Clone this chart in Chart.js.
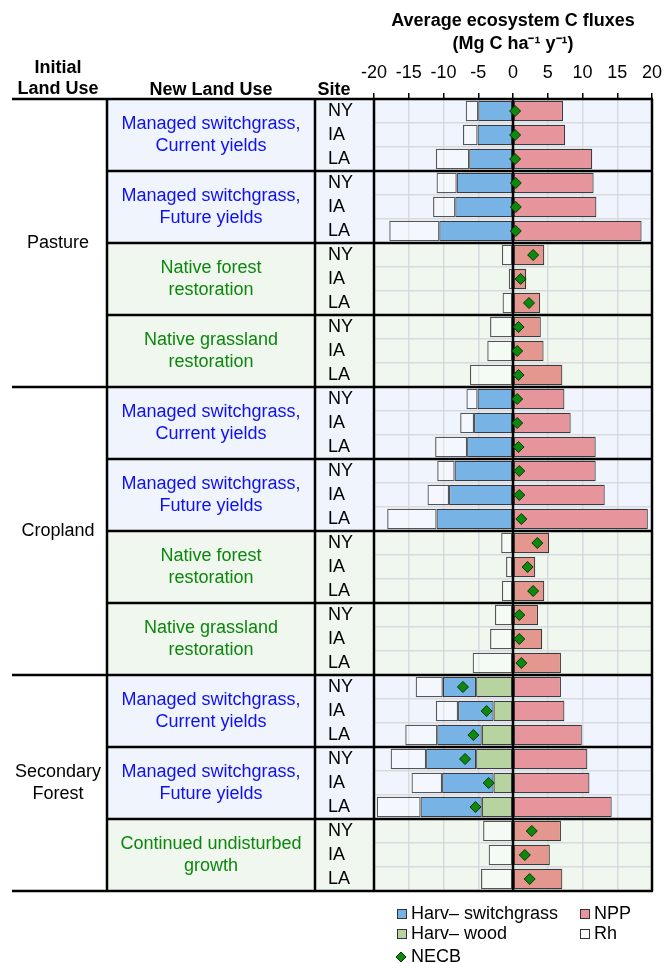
<!DOCTYPE html>
<html>
<head>
<meta charset="utf-8">
<script src="https://cdn.jsdelivr.net/npm/chart.js@4.4.1/dist/chart.umd.min.js"></script>
<style>
  body { margin: 0; background: #fff; }
  #wrap { position: relative; width: 665px; height: 963px; }
</style>
</head>
<body>
<div id="wrap"><canvas id="myChart"></canvas></div>
<script>
// rows: 11 land-use transitions x 3 sites
var sites = ["NY", "IA", "LA"];
var initialLandUse = ["Pasture", "Cropland", "Secondary Forest"];
var newLandUse = [
    ["Managed switchgrass,", "Current yields"],
    ["Managed switchgrass,", "Future yields"],
    ["Native forest", "restoration"],
    ["Native grassland", "restoration"],
    ["Managed switchgrass,", "Current yields"],
    ["Managed switchgrass,", "Future yields"],
    ["Native forest", "restoration"],
    ["Native grassland", "restoration"],
    ["Managed switchgrass,", "Current yields"],
    ["Managed switchgrass,", "Future yields"],
    ["Continued undisturbed", "growth"]
];
var groupIsSwitchgrass = [true, true, false, false, true, true, false, false, true, true, false];
var xTicks = [-20, -15, -10, -5, 0, 5, 10, 15, 20];

// Mg C ha-1 y-1 (losses negative)
var npp = [7.2, 7.5, 11.4,  11.6, 12.0, 18.5,  4.5, 1.9, 3.9,  4.0, 4.4, 7.1,
           7.4, 8.3, 11.9,  11.9, 13.2, 19.4,  5.2, 3.2, 4.5,  3.6, 4.2, 6.9,
           6.9, 7.4, 9.9,   10.7, 11.0, 14.2,  6.9, 5.3, 7.1];
var harvWood = [0, 0, 0,  0, 0, 0,  0, 0, 0,  0, 0, 0,
                0, 0, 0,  0, 0, 0,  0, 0, 0,  0, 0, 0,
                -5.3, -2.8, -4.5,  -5.3, -2.8, -4.5,  0, 0, 0];
var harvSwitchgrass = [-5.0, -5.1, -6.3,  -8.1, -8.3, -10.6,  0, 0, 0,  0, 0, 0,
                       -5.1, -5.6, -6.6,  -8.4, -9.2, -11.0,  0, 0, 0,  0, 0, 0,
                       -4.8, -5.1, -6.4,  -7.2, -7.4, -8.8,  0, 0, 0];
var rh = [-1.8, -2.1, -4.8,  -2.9, -3.2, -7.2,  -1.6, -0.6, -1.5,  -3.3, -3.7, -6.2,
          -1.6, -2.0, -4.6,  -2.5, -3.1, -7.1,  -1.7, -1.0, -1.6,  -2.6, -3.3, -5.8,
          -3.9, -3.2, -4.6,  -5.1, -4.4, -6.3,  -4.3, -3.5, -4.6];
var necb = [0.3, 0.3, 0.3,  0.4, 0.4, 0.4,  2.9, 1.1, 2.3,  0.8, 0.6, 0.8,
            0.6, 0.6, 0.8,  0.9, 0.9, 1.2,  3.5, 2.1, 2.9,  0.9, 0.9, 1.2,
            -7.2, -3.8, -5.7,  -6.9, -3.5, -5.4,  2.7, 1.7, 2.4];

var labels = [];
newLandUse.forEach(() => sites.forEach(s => labels.push(s)));

var FONT = "'Liberation Sans', Arial, sans-serif";
Chart.defaults.font.family = FONT;
Chart.defaults.font.size = 18;
Chart.defaults.color = "#000";

var BLUE = "#78b3e6", GREEN = "#b6d3a0", BORDER = "#3a3a3a";
var nppColor = ctx => groupIsSwitchgrass[Math.floor(ctx.dataIndex / 3)] ? "#e6959c" : "#e3978f";

const tablePlugin = {
    id: "table",
    beforeDraw(chart) {
        const { ctx, chartArea: a } = chart;
        const gh = (a.bottom - a.top) / newLandUse.length;
        ctx.save();
        ctx.fillStyle = "#fff";
        ctx.fillRect(0, 0, chart.width, chart.height);
        groupIsSwitchgrass.forEach((sw, g) => {
            ctx.fillStyle = sw ? "#eff4fd" : "#eff7ef";
            ctx.fillRect(107, a.top + g * gh, a.right - 107, gh);
        });
        ctx.restore();
    },
    beforeDatasetDraw(chart, args) {
        if (args.index !== 0) return;
        const { ctx, chartArea: a } = chart;
        const x0 = chart.scales.x.getPixelForValue(0);
        ctx.save();
        ctx.strokeStyle = "#000";
        ctx.lineWidth = 2.5;
        ctx.beginPath();
        ctx.moveTo(x0, a.top);
        ctx.lineTo(x0, a.bottom);
        ctx.stroke();
        ctx.restore();
    },
    afterDraw(chart) {
        const { ctx, chartArea: a } = chart;
        const gh = (a.bottom - a.top) / newLandUse.length;
        ctx.save();
        ctx.strokeStyle = "#000";
        ctx.lineWidth = 2.5;
        ctx.beginPath();
        for (let g = 0; g <= newLandUse.length; g++) {
            const y = a.top + g * gh;
            const full = g % 4 === 0 || g === newLandUse.length;
            ctx.moveTo(full ? 12 : 107, y);
            ctx.lineTo(a.right + 1, y);
        }
        [107, 315, a.left, a.right].forEach(x => {
            ctx.moveTo(x, a.top);
            ctx.lineTo(x, a.bottom);
        });
        ctx.stroke();

        ctx.textAlign = "center";
        ctx.textBaseline = "middle";
        ctx.fillStyle = "#000";
        ctx.font = "bold 18px " + FONT;
        ctx.fillText("Initial", 58, 68);
        ctx.fillText("Land Use", 58, 89);
        ctx.fillText("New Land Use", 211, 90);
        ctx.fillText("Site", 334, 90);

        ctx.font = "18px " + FONT;
        ctx.fillText(initialLandUse[0], 58, a.top + 2 * gh);
        ctx.fillText(initialLandUse[1], 58, a.top + 6 * gh);
        ctx.fillText("Secondary", 58, a.top + 9.5 * gh - 11);
        ctx.fillText("Forest", 58, a.top + 9.5 * gh + 11);

        newLandUse.forEach((lines, g) => {
            const cy = a.top + (g + 0.5) * gh;
            ctx.fillStyle = groupIsSwitchgrass[g] ? "#1010ee" : "#0c870c";
            ctx.fillText(lines[0], 211, cy - 11);
            ctx.fillText(lines[1], 211, cy + 11);
        });

        // legend
        const sq = (x, y, c) => {
            ctx.fillStyle = c;
            ctx.fillRect(x, y - 5, 10, 10);
            ctx.lineWidth = 1;
            ctx.strokeStyle = "#333";
            ctx.strokeRect(x + 0.5, y - 4.5, 9, 9);
        };
        ctx.textAlign = "left";
        ctx.fillStyle = "#000";
        sq(397, 914, BLUE);
        sq(580, 914, "#e6959c");
        sq(397, 934, GREEN);
        sq(580, 934, "#fff");
        ctx.fillStyle = "#000";
        ctx.fillText("Harv\u2013 switchgrass", 411, 914);
        ctx.fillText("NPP", 594, 914);
        ctx.fillText("Harv\u2013 wood", 411, 934);
        ctx.fillText("Rh", 594, 934);
        ctx.fillText("NECB", 411, 957);
        ctx.beginPath();
        ctx.moveTo(401, 952); ctx.lineTo(406, 957); ctx.lineTo(401, 962); ctx.lineTo(396, 957);
        ctx.closePath();
        ctx.fillStyle = "#0b8a0b";
        ctx.fill();
        ctx.strokeStyle = "#0a300a";
        ctx.stroke();
        ctx.restore();
    }
};

const data = {
    labels: labels,
    datasets: [
        {
            type: "line",
            label: "NECB",
            data: necb,
            stack: "necb",
            showLine: false,
            pointStyle: "rectRot",
            pointRadius: 5.5,
            backgroundColor: "#0b8a0b",
            borderColor: "#0a300a",
            borderWidth: 1
        },
        { label: "Harv\u2013 wood", data: harvWood, backgroundColor: GREEN },
        { label: "Harv\u2013 switchgrass", data: harvSwitchgrass, backgroundColor: BLUE },
        { label: "Rh", data: rh, backgroundColor: "rgba(255,255,255,0.35)", borderColor: "#555" },
        { label: "NPP", data: npp, backgroundColor: nppColor }
    ]
};
data.datasets.slice(1).forEach(d => {
    d.type = "bar";
    d.stack = "flux";
    d.borderColor = d.borderColor || BORDER;
    d.borderWidth = 1.2;
    d.borderSkipped = false;
    d.barPercentage = 0.85;
    d.categoryPercentage = 1;
});

const config = {
    type: "bar",
    data: data,
    options: {
        indexAxis: "y",
        responsive: true,
        maintainAspectRatio: false,
        animation: false,
        layout: { padding: { left: 328, right: 13, top: 0, bottom: 72 } },
        plugins: { legend: { display: false }, tooltip: { enabled: false } },
        scales: {
            x: {
                position: "top",
                stacked: true,
                min: -20,
                max: 20,
                afterBuildTicks: s => { s.ticks = xTicks.map(v => ({ value: v })); },
                afterFit: s => { s.height = 99; s.paddingRight = 0; s.paddingLeft = 0; },
                ticks: { padding: 9, color: "#000", font: { size: 18 } },
                grid: { color: "#d8dae0", lineWidth: 1.5, tickColor: "#000", tickLength: 6, tickWidth: 1.5 },
                border: { display: false },
                title: {
                    display: true,
                    text: ["Average ecosystem C fluxes", "(Mg C ha\u207B\u00B9 y\u207B\u00B9)"],
                    font: { size: 18, weight: "bold", lineHeight: "23px" },
                    padding: { top: 9.5, bottom: 0 },
                    color: "#000"
                }
            },
            y: {
                stacked: true,
                afterFit: s => { s.width = 46; },
                ticks: { autoSkip: false, crossAlign: "far", padding: 0, color: "#000", font: { size: 18 } },
                grid: { color: "#d8dae0", lineWidth: 1.5, drawTicks: false, offset: true },
                border: { display: false }
            }
        }
    },
    plugins: [tablePlugin]
};
const myChart = new Chart(document.getElementById("myChart"), config);
</script>
</body>
</html>
